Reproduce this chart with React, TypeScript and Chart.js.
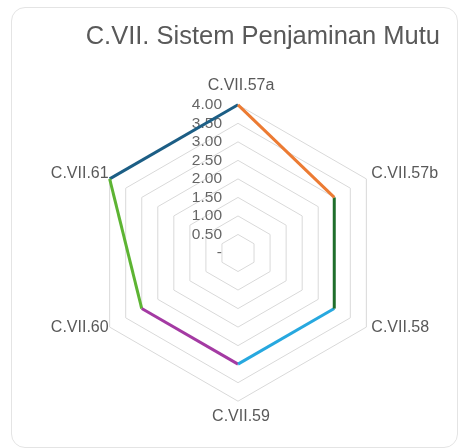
import React, { useEffect, useRef } from 'react';
import { Chart, registerables } from 'chart.js';

Chart.register(...registerables);

const chartTitle = 'C.VII. Sistem Penjaminan Mutu';
const categories = ['C.VII.57a', 'C.VII.57b', 'C.VII.58', 'C.VII.59', 'C.VII.60', 'C.VII.61'];
const scores = [4, 3, 3, 3, 3, 4];
const segmentColors = ['#EC7B33', '#1F6E2B', '#27A8DF', '#A43AA3', '#5DB433', '#1C5E85'];
const tickValues = [0, 0.5, 1, 1.5, 2, 2.5, 3, 3.5, 4];
const tickLabels = ['-', '0.50', '1.00', '1.50', '2.00', '2.50', '3.00', '3.50', '4.00'];

const FONT = '"Liberation Sans", Arial, Helvetica, sans-serif';

// one dataset per coloured edge: the two neighbouring category values, gaps elsewhere
const edgeDatasets = segmentColors.map((color, i) => {
  const n = scores.length;
  const j = (i + 1) % n;
  return {
    data: scores.map((v, k) => (k === i || k === j ? v : null)),
    fill: false,
    spanGaps: false,
    borderWidth: 3,
    borderColor: color,
    borderJoinStyle: 'miter',
    pointRadius: 0,
    pointHoverRadius: 0,
  };
});

const rightTicksPlugin = {
  id: 'rightTicks',
  beforeDatasetsDraw(chart: any) {
    const s = chart.scales.r;
    const ctx = chart.ctx;
    ctx.save();
    ctx.font = `15.5px ${FONT}`;
    ctx.fillStyle = '#666666';
    ctx.textAlign = 'right';
    ctx.textBaseline = 'middle';
    tickValues.forEach((v, i) => {
      const y = s.yCenter - s.getDistanceFromCenterForValue(v);
      ctx.fillText(tickLabels[i], s.xCenter - 16, y);
    });
    ctx.restore();
  },
};

const pointLabelPlugin = {
  id: 'pointLabelsCustom',
  afterDatasetsDraw(chart: any) {
    const s = chart.scales.r;
    const ctx = chart.ctx;
    ctx.save();
    ctx.font = `16px ${FONT}`;
    ctx.fillStyle = '#595959';
    ctx.textBaseline = 'middle';
    categories.forEach((label, i) => {
      const p = s.getPointPosition(i, s.drawingArea);
      const dx = p.x - s.xCenter;
      const dy = p.y - s.yCenter;
      if (Math.abs(dx) < 1) {
        ctx.textAlign = 'center';
        ctx.fillText(label, p.x + 3, dy < 0 ? p.y - 19 : p.y + 15);
      } else {
        ctx.textAlign = dx > 0 ? 'left' : 'right';
        ctx.fillText(label, dx > 0 ? p.x + 5 : p.x - 1, dy < 0 ? p.y - 5 : p.y);
      }
    });
    ctx.restore();
  },
};

export default function App() {
  const ref = useRef<HTMLCanvasElement>(null);
  useEffect(() => {
    const n = categories.length;
    const chart = new Chart(ref.current as HTMLCanvasElement, {
      type: 'radar',
      data: {
        labels: categories,
        datasets: edgeDatasets,
      },
      options: {
        animation: false,
        responsive: true,
        maintainAspectRatio: false,
        layout: { padding: { left: 36, right: 18, bottom: 17, top: 0 } },
        plugins: {
          legend: { display: false },
          tooltip: { enabled: false },
          title: {
            display: true,
            text: chartTitle,
            align: 'end',
            color: '#595959',
            font: { family: FONT, size: 25.5, weight: 'normal' },
            padding: { top: 21.5, bottom: 24.5 },
          },
        },
        scales: {
          r: {
            min: 0,
            max: 4,
            ticks: { stepSize: 0.5, display: false },
            grid: { color: '#d9d9d9', lineWidth: 1, circular: false },
            angleLines: { display: false },
            pointLabels: {
              color: 'rgba(0,0,0,0)',
              font: { family: FONT, size: 16 },
              padding: (c: any) => ((c.index * 360) / n > 180 ? 18.3 : 8),
            },
          },
        },
      },
      plugins: [rightTicksPlugin, pointLabelPlugin],
    } as any);
    return () => chart.destroy();
  }, []);

  return (
    <div style={{ position: 'fixed', left: 0, top: 0, width: 458, height: 448, background: '#fff', overflow: 'hidden' }}>
      <div
        style={{
          position: 'absolute',
          left: 11,
          top: 7,
          width: 447,
          height: 441,
          border: '1.5px solid #e4e4e4',
          borderRadius: 14,
          boxSizing: 'border-box',
        }}
      />
      <div style={{ position: 'absolute', left: 0, top: 0, width: 458, height: 448 }}>
        <canvas ref={ref} />
      </div>
    </div>
  );
}
